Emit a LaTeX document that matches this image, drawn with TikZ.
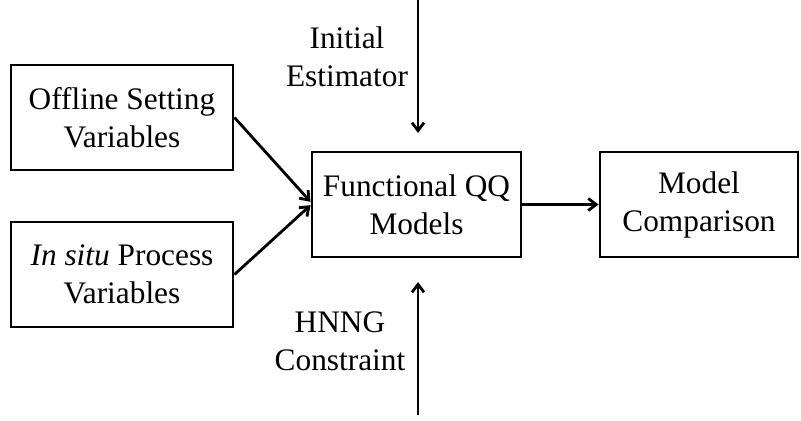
\documentclass[tikz,border=0pt]{standalone}
\usepackage{fontspec}
\setmainfont{Liberation Serif}
\usetikzlibrary{arrows.meta}
\begin{document}
\begin{tikzpicture}[x=0.75pt,y=-0.75pt,
  every node/.style={font=\fontsize{23.5}{28.5}\selectfont, align=center, inner sep=0pt},
  stagebox/.style={draw, line width=2.2pt, minimum height=105*0.75pt},
  flow/.style={line width=2.1pt, -{Straight Barb[length=6pt,width=9pt,line width=2.1pt]}}]
\useasboundingbox (0,0) rectangle (801,421);
% input boxes
\node[stagebox, minimum width=222*0.75pt] (offline) at (122,117.5) {Offline Setting\\Variables};
\node[stagebox, minimum width=222*0.75pt] (insitu) at (122,274.5) {\textit{In situ} Process\\Variables};
% central model box
\node[stagebox, minimum width=209*0.75pt] (fqq) at (416.5,204.5) {Functional QQ\\Models};
% comparison box
\node[stagebox, minimum width=198*0.75pt] (comp) at (699,204.5) {Model\\Comparison};
% vertical inputs
\coordinate (topin) at (418,0);
\coordinate (topend) at (418,133);
\coordinate (botin) at (418,415);
\coordinate (botend) at (418,282);
\node (init) at (347,57) {Initial\\Estimator};
\node (hnng) at (340,341) {HNNG\\Constraint};
% connectors
\draw[flow] (offline.east) -- ([yshift=2pt]fqq.west);
\draw[flow] (insitu.east) -- ([yshift=-0.5pt]fqq.west);
\draw[flow] (fqq.east) -- (comp.west);
\draw[flow] (topin) -- (topend);
\draw[flow] (botin) -- (botend);
\end{tikzpicture}
\end{document}
